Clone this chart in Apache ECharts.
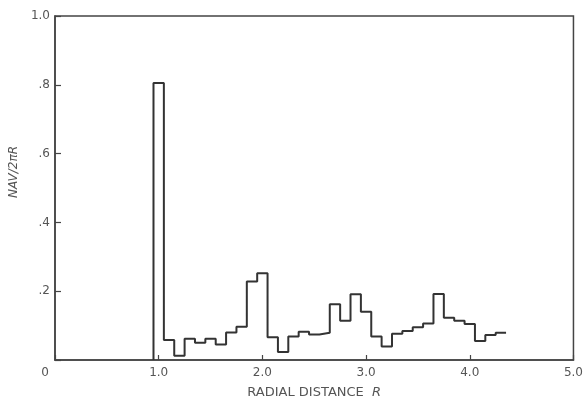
<!DOCTYPE html>
<html lang="en">
<head>
    <meta charset="UTF-8">
    <title>NAV / 2piR</title>
    <script src="https://cdn.jsdelivr.net/npm/echarts@6/dist/echarts.min.js"></script>
    <style>
        html, body {margin: 0; padding: 0; background: #fff;}
    </style>
</head>
<body>
<div id="main" style="width: 586px;height: 404px"></div>
<script>
    // histogram bin edges (radial distance R)
    var binEdges = [0.95, 1.05, 1.15, 1.25, 1.35, 1.45, 1.55, 1.65, 1.75, 1.85,
        1.95, 2.05, 2.15, 2.25, 2.35, 2.45, 2.55, 2.65, 2.75, 2.85,
        2.95, 3.05, 3.15, 3.25, 3.35, 3.45, 3.55, 3.65, 3.75, 3.85,
        3.95, 4.05, 4.15, 4.25, 4.35];
    // NAV/2piR for each bin
    var navValues = [0.805, 0.058, 0.012, 0.062, 0.050, 0.062, 0.045, 0.080, 0.097, 0.228,
        0.252, 0.066, 0.023, 0.068, 0.082, 0.074, 0.079, 0.162, 0.114, 0.191,
        0.140, 0.068, 0.039, 0.076, 0.084, 0.095, 0.106, 0.192, 0.123, 0.114,
        0.105, 0.055, 0.073, 0.079];
    var xTicks = ['0', '1.0', '2.0', '3.0', '4.0', '5.0'];
    var yTicks = ['', '.2', '.4', '.6', '.8', '1.0'];

    var font = 'DejaVu Sans';
    var textColor = '#555';
    var ink = '#333';

    // step line: start on the axis at the first edge, then one point per bin right edge
    var stepData = [[binEdges[0], 0]];
    for (var i = 0; i < navValues.length; i++) {
        stepData.push([binEdges[i + 1], navValues[i]]);
    }

    var myChart = echarts.init(document.getElementById('main'));
    var option = {
        animation: false,
        backgroundColor: '#fff',
        grid: {
            show: true,
            left: 54,
            right: 9.5,
            top: 16,
            bottom: 44,
            borderColor: '#444',
            borderWidth: 1.5
        },
        xAxis: {
            type: 'value',
            min: 0,
            max: 5,
            interval: 1,
            name: 'RADIAL DISTANCE  {i|R}',
            nameLocation: 'middle',
            nameGap: 26,
            nameTextStyle: {
                fontFamily: font,
                fontSize: 13,
                color: textColor,
                rich: {
                    i: {fontFamily: font, fontSize: 13, color: textColor, fontStyle: 'italic'}
                }
            },
            axisLine: {show: true, lineStyle: {color: '#444', width: 1.5}},
            axisTick: {show: true, inside: true, length: 5, lineStyle: {color: '#444', width: 1.2}},
            splitLine: {show: false},
            axisLabel: {
                margin: 7,
                fontFamily: font,
                fontSize: 12,
                color: textColor,
                formatter: function (v) {
                    var t = xTicks[Math.round(v)];
                    return v === 0 ? '{z|' + t + '}' : t;
                },
                rich: {
                    z: {fontFamily: font, fontSize: 12, color: textColor, padding: [0, 20, 0, 0]}
                }
            }
        },
        yAxis: {
            type: 'value',
            min: 0,
            max: 1,
            interval: 0.2,
            name: 'NAV/2πR',
            nameLocation: 'middle',
            nameGap: 31,
            nameTextStyle: {
                fontFamily: font,
                fontSize: 12,
                fontStyle: 'italic',
                color: textColor,
                padding: [0, 0, 0, 32]
            },
            axisLine: {show: true, lineStyle: {color: '#444', width: 1.5}},
            axisTick: {show: true, inside: true, length: 6, lineStyle: {color: '#444', width: 1.2}},
            splitLine: {show: false},
            axisLabel: {
                margin: 5,
                fontFamily: font,
                fontSize: 12,
                color: textColor,
                formatter: function (v) {
                    return yTicks[Math.round(v * 5)];
                }
            }
        },
        series: [{
            type: 'line',
            step: 'start',
            data: stepData,
            showSymbol: false,
            symbol: 'none',
            lineStyle: {color: ink, width: 2},
            silent: true
        }]
    };
    myChart.setOption(option);
</script>
</body>
</html>
